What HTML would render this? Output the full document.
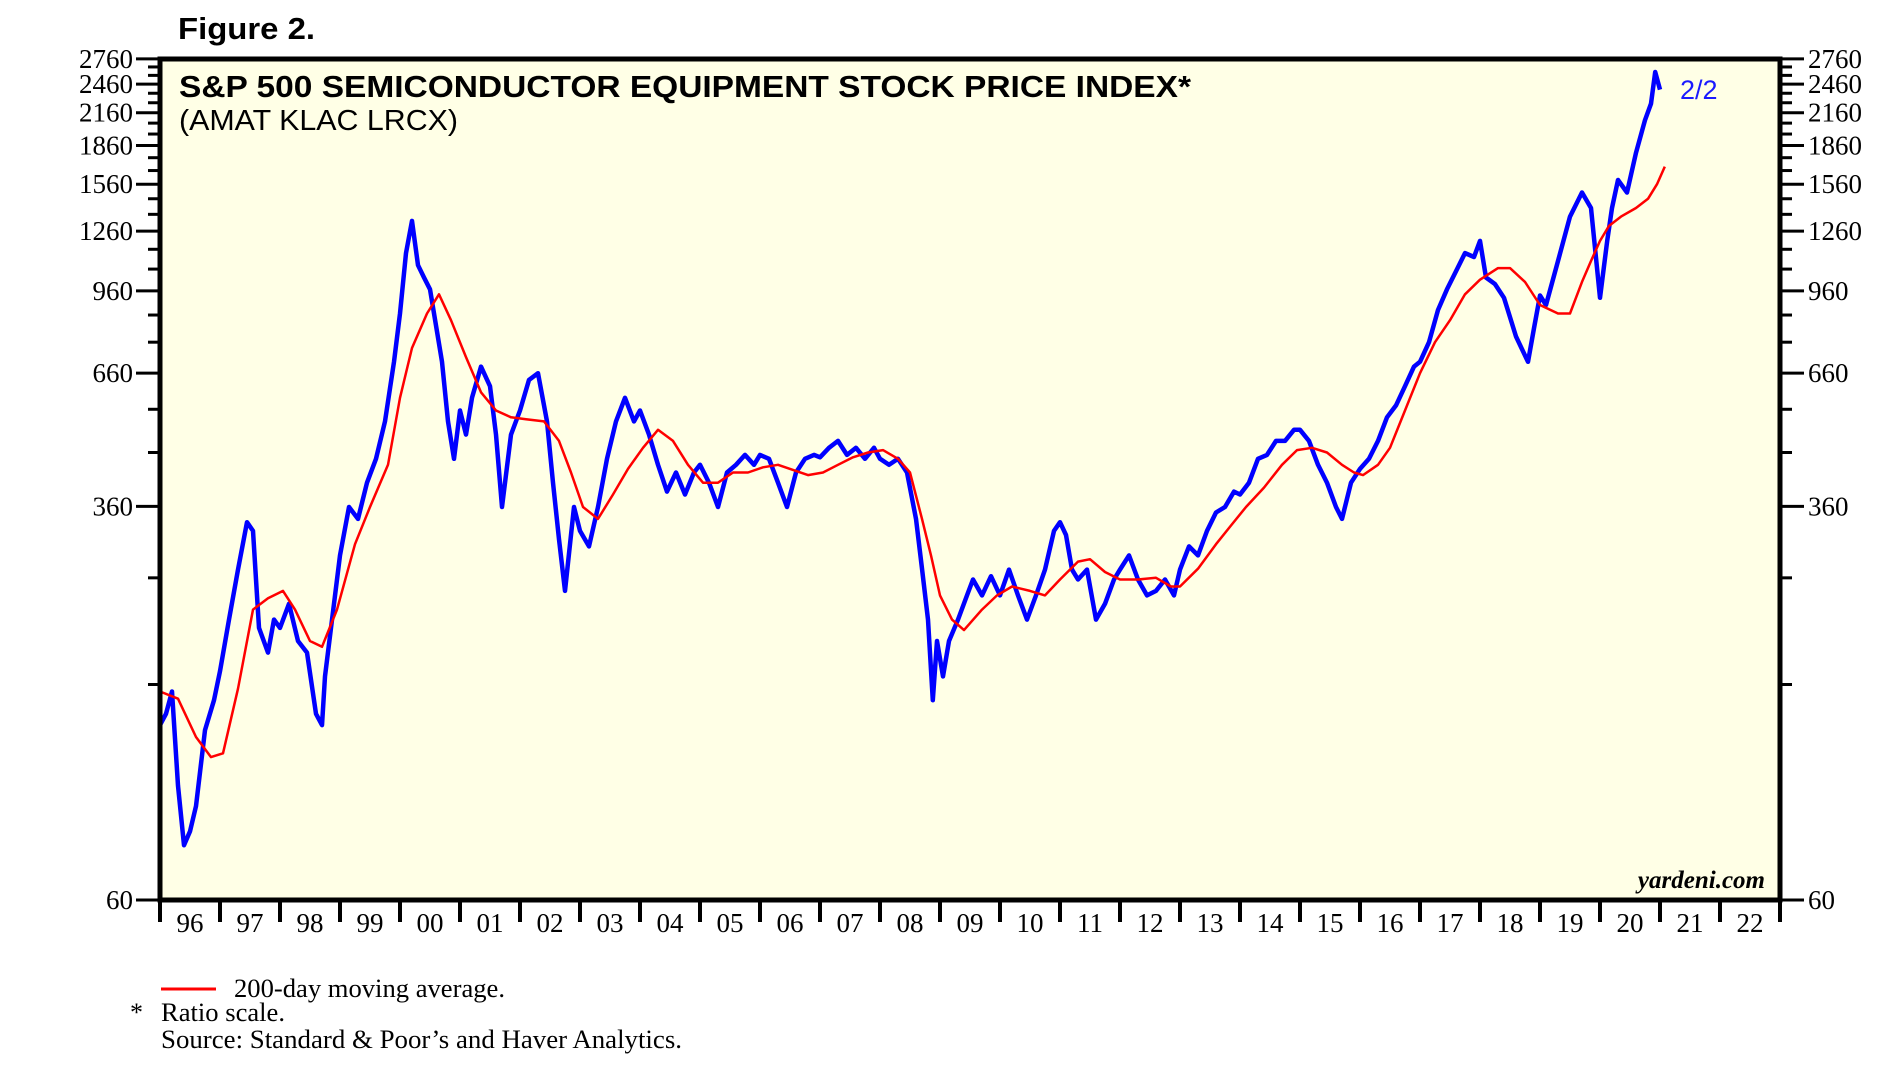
<!DOCTYPE html>
<html><head><meta charset="utf-8"><style>
body{margin:0;background:#fff}
svg text{font-family:"Liberation Serif",serif}
.sans{font-family:"Liberation Sans",sans-serif!important}
</style></head><body>
<svg id="chart" width="1891" height="1083" viewBox="0 0 1891 1083" xmlns="http://www.w3.org/2000/svg">
<rect x="0" y="0" width="1891" height="1083" fill="#fff"/>
<text class="sans" x="178" y="39" font-size="31" font-weight="bold" textLength="137" lengthAdjust="spacingAndGlyphs">Figure 2.</text>
<rect x="160" y="59" width="1620" height="841" fill="#FFFFE6"/>
<g id="grid"></g>
<g id="series"></g>
<rect x="160" y="59" width="1620" height="841" fill="none" stroke="#000" stroke-width="5"/>
<text class="sans" x="179" y="97" font-size="31" font-weight="bold" textLength="1012" lengthAdjust="spacingAndGlyphs">S&amp;P 500 SEMICONDUCTOR EQUIPMENT STOCK PRICE INDEX*</text>
<text class="sans" x="179" y="130" font-size="29" textLength="279" lengthAdjust="spacingAndGlyphs">(AMAT KLAC LRCX)</text>
<text class="sans" x="1680" y="99" font-size="27" fill="#1a1aff">2/2</text>
<text x="1765" y="888" font-size="25" font-weight="bold" font-style="italic" text-anchor="end">yardeni.com</text>
<line x1="161" y1="989" x2="216" y2="989" stroke="#f00" stroke-width="3"/>
<text x="234" y="997" font-size="26" textLength="271" lengthAdjust="spacingAndGlyphs">200-day moving average.</text>
<text x="130" y="1021" font-size="26">*</text>
<text x="161" y="1021" font-size="26" textLength="124" lengthAdjust="spacingAndGlyphs">Ratio scale.</text>
<text x="161" y="1048" font-size="26" textLength="521" lengthAdjust="spacingAndGlyphs">Source: Standard &amp; Poor’s and Haver Analytics.</text>
</svg>
<script>
const yMajorTicks=[60,360,660,960,1260,1560,1860,2160,2460,2760];
const yMinorTicks=[160,260,460,560,760,860,1060,1160,1360,1460,1660,1760,1960,2060,2260,2360,2560,2660];
const yearLabels=["96","97","98","99","00","01","02","03","04","05","06","07","08","09","10","11","12","13","14","15","16","17","18","19","20","21","22"];
const blueT=[1996.0,1996.1,1996.2,1996.3,1996.4,1996.5,1996.6,1996.75,1996.9,1997.0,1997.15,1997.3,1997.45,1997.55,1997.65,1997.8,1997.9,1998.0,1998.15,1998.3,1998.45,1998.6,1998.7,1998.75,1998.85,1999.0,1999.15,1999.3,1999.45,1999.6,1999.75,1999.9,2000.0,2000.1,2000.2,2000.3,2000.4,2000.5,2000.6,2000.7,2000.8,2000.9,2001.0,2001.1,2001.2,2001.35,2001.5,2001.6,2001.7,2001.85,2002.0,2002.15,2002.3,2002.45,2002.55,2002.65,2002.75,2002.9,2003.0,2003.15,2003.3,2003.45,2003.6,2003.75,2003.9,2004.0,2004.15,2004.3,2004.45,2004.6,2004.75,2004.9,2005.0,2005.15,2005.3,2005.45,2005.6,2005.75,2005.9,2006.0,2006.15,2006.3,2006.45,2006.6,2006.75,2006.9,2007.0,2007.15,2007.3,2007.45,2007.6,2007.75,2007.9,2008.0,2008.15,2008.3,2008.45,2008.6,2008.7,2008.8,2008.88,2008.95,2009.05,2009.15,2009.3,2009.45,2009.55,2009.7,2009.85,2010.0,2010.15,2010.3,2010.45,2010.6,2010.75,2010.9,2011.0,2011.1,2011.2,2011.3,2011.45,2011.6,2011.75,2011.9,2012.0,2012.15,2012.3,2012.45,2012.6,2012.75,2012.9,2013.0,2013.15,2013.3,2013.45,2013.6,2013.75,2013.9,2014.0,2014.15,2014.3,2014.45,2014.6,2014.75,2014.9,2015.0,2015.15,2015.3,2015.45,2015.6,2015.7,2015.85,2016.0,2016.15,2016.3,2016.45,2016.6,2016.75,2016.9,2017.0,2017.15,2017.3,2017.45,2017.6,2017.75,2017.9,2018.0,2018.1,2018.25,2018.4,2018.6,2018.8,2018.9,2019.0,2019.1,2019.3,2019.5,2019.7,2019.85,2020.0,2020.12,2020.2,2020.3,2020.45,2020.6,2020.75,2020.85,2020.92,2021.0,2021.05,2021.09];
const blueV=[133,140,155,101,77,82,92,130,149,170,215,270,335,322,207,185,215,207,231,195,185,140,133,166,207,288,359,340,401,447,530,695,866,1140,1320,1079,1020,967,820,695,530,447,557,499,590,680,622,499,359,499,557,640,660,530,401,310,245,359,322,300,359,447,530,590,530,557,499,435,385,420,380,420,435,401,359,420,435,455,435,455,447,401,359,420,447,455,450,470,485,455,470,447,470,447,435,447,420,340,271,215,149,195,166,195,215,240,258,240,262,240,270,240,215,240,270,322,335,316,270,258,270,215,231,258,270,288,258,240,245,258,240,270,300,288,322,350,359,385,380,401,447,455,485,485,510,510,485,435,401,359,340,401,427,447,485,540,570,622,680,695,760,880,967,1050,1140,1120,1205,1020,990,930,780,695,810,940,900,1100,1346,1502,1400,930,1205,1400,1590,1502,1800,2088,2250,2600,2400];
const redT=[1996.0,1996.3,1996.6,1996.85,1997.05,1997.3,1997.55,1997.8,1998.05,1998.25,1998.5,1998.7,1998.95,1999.25,1999.5,1999.8,2000.0,2000.2,2000.45,2000.65,2000.85,2001.1,2001.35,2001.6,2001.85,2002.1,2002.4,2002.65,2002.85,2003.05,2003.3,2003.55,2003.8,2004.05,2004.3,2004.55,2004.8,2005.05,2005.3,2005.55,2005.8,2006.05,2006.3,2006.55,2006.8,2007.05,2007.3,2007.55,2007.8,2008.05,2008.3,2008.5,2008.7,2008.85,2009.0,2009.2,2009.4,2009.7,2009.95,2010.2,2010.5,2010.75,2011.0,2011.3,2011.5,2011.75,2012.0,2012.3,2012.6,2012.85,2013.0,2013.3,2013.6,2013.85,2014.1,2014.4,2014.7,2014.95,2015.2,2015.45,2015.7,2015.9,2016.05,2016.3,2016.5,2016.75,2017.0,2017.25,2017.5,2017.75,2018.0,2018.3,2018.5,2018.75,2019.0,2019.3,2019.5,2019.7,2019.85,2020.0,2020.15,2020.35,2020.6,2020.8,2020.95,2021.08];
const redV=[155,150,126,115,117,157,225,237,245,225,195,190,225,303,359,435,590,740,866,945,840,710,605,557,540,535,530,485,420,359,340,380,427,470,510,485,435,401,401,420,420,430,435,425,415,420,435,450,460,465,447,420,340,288,240,215,205,225,240,250,245,240,258,280,283,267,258,258,260,250,250,271,303,330,359,392,435,465,470,460,435,420,415,435,470,557,660,760,840,945,1010,1065,1065,1000,900,866,866,1000,1100,1205,1290,1346,1400,1460,1560,1690];

const X0=160,YEAR_W=60,Y60=900,PPL=219.7;
function xScale(t){return X0+(t-1996)*YEAR_W;}
function yScale(v){return Y60-PPL*Math.log(v/60);}
const NS="http://www.w3.org/2000/svg";
const grid=document.getElementById('grid'),series=document.getElementById('series');
function mk(tag,attrs,parent){const e=document.createElementNS(NS,tag);for(const k in attrs)e.setAttribute(k,attrs[k]);parent.appendChild(e);return e;}
yMajorTicks.forEach(v=>{
  const y=yScale(v);
  const l=mk('line',{x1:136,y1:y,x2:160,y2:y,stroke:'#000','stroke-width':3},grid);
  
  
  const r=mk('line',{x1:1780,y1:y,x2:1804,y2:y,stroke:'#000','stroke-width':3},grid);
  
  
  const t=mk('text',{x:133,y:y+9,'font-size':27,'text-anchor':'end'},grid);
  t.textContent=v;
  
  
  const t2=mk('text',{x:1808,y:y+9,'font-size':27},grid);
  t2.textContent=v;
  
  
});
yMinorTicks.forEach(v=>{
  const y=yScale(v);
  const l=mk('line',{x1:148,y1:y,x2:160,y2:y,stroke:'#000','stroke-width':3},grid);
  
  
  const r=mk('line',{x1:1780,y1:y,x2:1792,y2:y,stroke:'#000','stroke-width':3},grid);
  
  
});
for(let i=0;i<=yearLabels.length;i++){
  const x=xScale(1996+i);
  const l=mk('line',{x1:x,y1:900,x2:x,y2:922,stroke:'#000','stroke-width':4},grid);
  
  
  if(i<yearLabels.length){
    const t=mk('text',{x:xScale(1996.5+i),y:932,'font-size':27,'text-anchor':'middle'},grid);
    t.textContent=yearLabels[i];
    
    
  }
}
const bp=mk('polyline',{points:blueT.map((t,i)=>xScale(t).toFixed(1)+','+yScale(blueV[i]).toFixed(1)).join(' '),fill:'none',stroke:'#0000ff','stroke-width':4.5,'stroke-linejoin':'round'},series);


const rp=mk('polyline',{points:redT.map((t,i)=>xScale(t).toFixed(1)+','+yScale(redV[i]).toFixed(1)).join(' '),fill:'none',stroke:'#ff0000','stroke-width':2.5,'stroke-linejoin':'round'},series);


</script>
</body></html>
